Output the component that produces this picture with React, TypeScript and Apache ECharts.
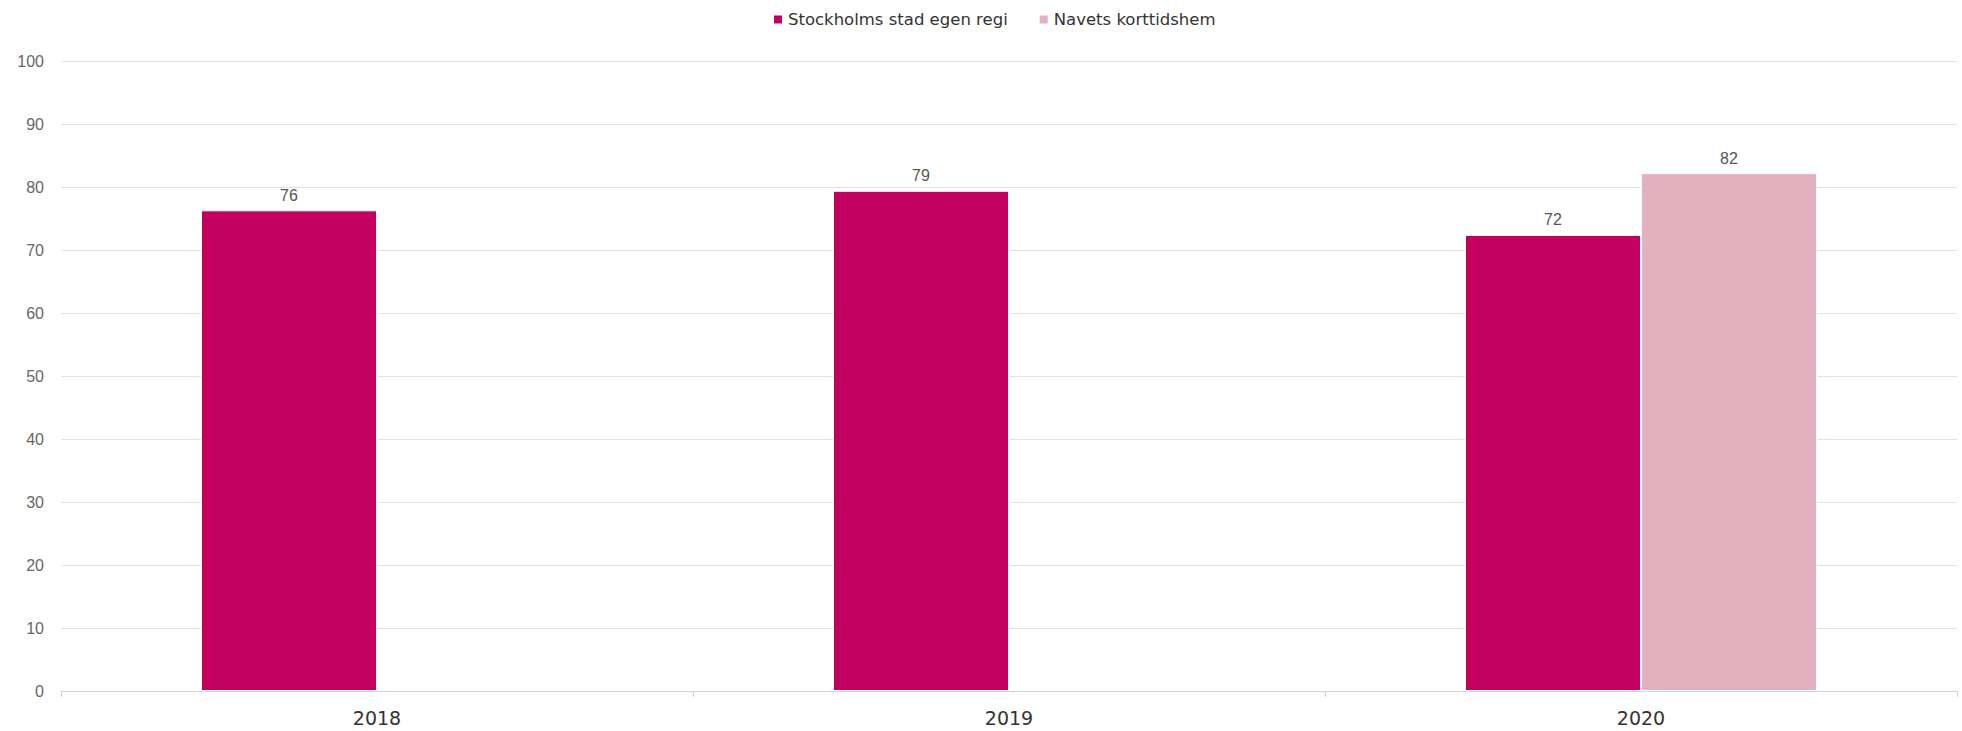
import React, { useEffect, useRef } from "react";
import * as echarts from "echarts";

const categories = ["2018", "2019", "2020"];
const seriesNames = ["Stockholms stad egen regi", "Navets korttidshem"];
const stockholmValues = [76.3, 79.4, 72.4];
const navetsValues: (number | null)[] = [null, null, 82.2];
const colors = ["#c4005f", "#e3b0c0"];

export default function App() {
  const ref = useRef<HTMLDivElement>(null);
  useEffect(() => {
    if (!ref.current) return;
    const chart = echarts.init(ref.current, null, { renderer: "svg" });
    const label = {
      show: true,
      position: "top",
      distance: 7,
      color: "#555",
      fontSize: 16,
      fontFamily: "Liberation Sans, Arial, sans-serif",
      formatter: (p: any) => String(Math.round(p.value)),
    };
    chart.setOption({
      animation: false,
      backgroundColor: "#fff",
      legend: {
        top: 6,
        left: 767,
        icon: "rect",
        itemWidth: 10,
        itemHeight: 10,
        itemGap: 30,
        textStyle: {
          fontSize: 16.5,
          color: "#333",
          fontFamily: "DejaVu Sans, sans-serif",
        },
        data: seriesNames,
      },
      grid: { left: 61, right: 5, top: 61, bottom: 40, containLabel: false },
      xAxis: {
        type: "category",
        data: categories,
        axisLine: { show: true, lineStyle: { color: "#d6d6d6", width: 1 } },
        axisTick: { show: true, length: 6, lineStyle: { color: "#d6d6d6" } },
        axisLabel: {
          fontSize: 19,
          color: "#333",
          margin: 17,
          fontFamily: "DejaVu Sans, sans-serif",
        },
        splitLine: { show: false },
      },
      yAxis: {
        type: "value",
        min: 0,
        max: 100,
        interval: 10,
        axisLine: { show: false },
        axisTick: { show: false },
        axisLabel: {
          fontSize: 16,
          color: "#666",
          margin: 17,
          fontFamily: "Liberation Sans, Arial, sans-serif",
        },
        splitLine: { lineStyle: { color: "#e3e3e3", width: 1 } },
      },
      series: [
        {
          name: seriesNames[0],
          type: "bar",
          data: stockholmValues,
          barWidth: 176,
          barGap: "0%",
          itemStyle: { color: colors[0], borderColor: "#fff", borderWidth: 1 },
          label,
        },
        {
          name: seriesNames[1],
          type: "bar",
          data: navetsValues,
          barWidth: 176,
          barGap: "0%",
          itemStyle: { color: colors[1], borderColor: "#fff", borderWidth: 1 },
          label,
        },
      ],
    });
    return () => chart.dispose();
  }, []);
  return (
    <div
      ref={ref}
      style={{ position: "absolute", left: 0, top: 0, width: 1962, height: 731 }}
    />
  );
}
